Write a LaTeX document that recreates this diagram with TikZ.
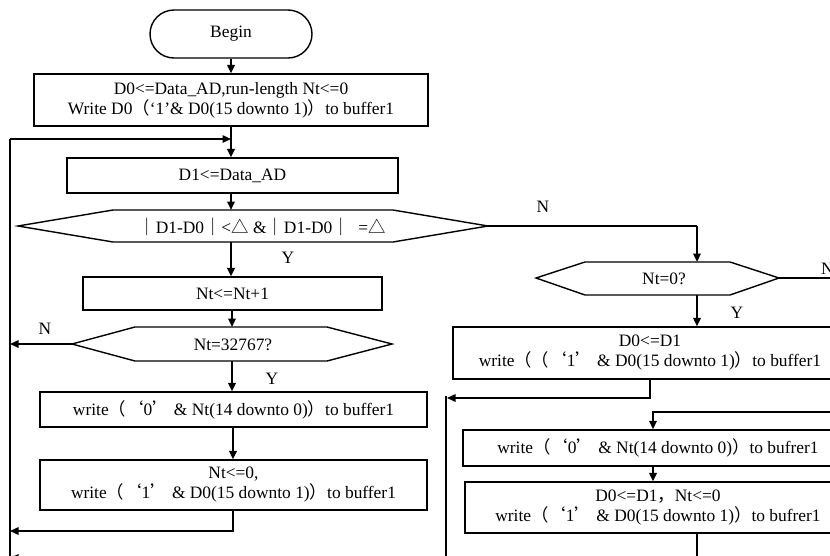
\documentclass[tikz,border=0pt]{standalone}
\usepackage{fontspec}
\setmainfont{Liberation Serif}
\newfontfamily\cjk{Noto Sans CJK SC}
\usetikzlibrary{arrows.meta}
\newcommand{\zlp}{{\cjk （}}
\newcommand{\zrp}{{\cjk ）}}
\newcommand{\zlq}{{\cjk ‘}}
\newcommand{\zrq}{{\cjk ’}}
\newcommand{\zvb}{{\cjk ｜}}
\newcommand{\ztri}{{\cjk △}}
\newcommand{\zcm}{{\cjk ，}}
\begin{document}
\begin{tikzpicture}[x=1pt,y=-1pt,
  font=\fontsize{17.4}{20}\selectfont,
  box/.style={draw,line width=1.4pt,inner sep=0pt,align=center},
  term/.style={draw,line width=1.4pt,rounded corners=24pt,inner sep=0pt},
  hexline/.style={draw,line width=1.4pt,line join=miter},
  txt/.style={inner sep=0pt,align=center},
  lbl/.style={inner sep=0pt},
  varr/.style={line width=2.5pt,-{Triangle[length=8.5pt,width=7.5pt]}},
  harr/.style={line width=1.5pt,-{Triangle[length=8.5pt,width=7.5pt]}},
  plain/.style={line width=1.5pt}]
\clip (0,0) rectangle (830,555);

% ---------- left column ----------
\node[term,minimum width=162pt,minimum height=48pt] (begin) at (231,34) {Begin};
\node[box,minimum width=394pt,minimum height=52pt] (b1) at (231,100)
  {D0<=Data\_AD,run-length Nt<=0\\Write D0\zlp‘1’\& D0(15 downto 1)\zrp to buffer1};
\node[box,minimum width=331pt,minimum height=35pt] (b2) at (232.5,175.5) {D1<=Data\_AD};

% hexagon 1
\coordinate (h1w) at (18,226);
\coordinate (h1e) at (488,226);
\coordinate (h1n) at (231,210);
\coordinate (h1s) at (231,242);
\draw[hexline] (h1w) -- (113,210) -- (393,210) -- (h1e) -- (393,242) -- (113,242) -- cycle;
\node[txt] (h1) at (262,227) {\zvb D1-D0\zvb<\ztri\ \&\zvb D1-D0\zvb\ \ =\ztri};

\node[box,minimum width=299pt,minimum height=33pt] (b3) at (232.5,293.5) {Nt<=Nt+1};

% hexagon 2
\coordinate (h2w) at (72,344);
\coordinate (h2n) at (232,327);
\coordinate (h2s) at (232,361);
\draw[hexline] (h2w) -- (135,327) -- (327,327) -- (392,344) -- (327,361) -- (135,361) -- cycle;
\node[txt] (h2) at (233,345) {Nt=32767?};

\node[box,minimum width=387pt,minimum height=35pt] (b4) at (233.5,409.5)
  {write\zlp\zlq 0\zrq\ \& Nt(14 downto 0)\zrp to buffer1};
\node[box,minimum width=387pt,minimum height=50pt] (b5) at (233.5,485)
  {Nt<=0,\\write\zlp\zlq 1\zrq\ \& D0(15 downto 1)\zrp to buffer1};

% ---------- right column ----------
\coordinate (h3w) at (536,278);
\coordinate (h3e) at (779,278);
\coordinate (h3n) at (697,262);
\coordinate (h3s) at (697,295);
\draw[hexline] (h3w) -- (585,262) -- (730,262) -- (h3e) -- (730,295) -- (585,295) -- cycle;
\node[txt] (h3) at (664,279) {Nt=0?};

\node[box,minimum width=394pt,minimum height=52pt] (b6) at (650,353)
  {D0<=D1\\write\zlp\zlp\zlq 1\zrq\ \& D0(15 downto 1)\zrp to buffer1};
\node[box,minimum width=390pt,minimum height=36pt] (b7) at (658,448)
  {write\zlp\zlq 0\zrq\ \& Nt(14 downto 0)\zrp to bufrer1};
\node[box,minimum width=386pt,minimum height=51pt] (b8) at (658,507.5)
  {D0<=D1\zcm Nt<=0\\write\zlp\zlq 1\zrq\ \& D0(15 downto 1)\zrp to bufrer1};

% ---------- labels ----------
\node[lbl] (ly1) at (288,258) {Y};
\node[lbl] (ln1) at (45,329) {N};
\node[lbl] (ly2) at (272,379) {Y};
\node[lbl] (ln2) at (543,207) {N};
\node[lbl] (ly3) at (737,313) {Y};
\node[lbl,anchor=west] (ln3) at (821,269) {N};

% ---------- helper coordinates ----------
\coordinate (loopL) at (10,139);
\coordinate (loopR) at (231,139);
\coordinate (leftBot) at (10,560);
\coordinate (ret1) at (233,531);
\coordinate (ret1L) at (10,531);
\coordinate (nleft) at (10,344);
\coordinate (turn1) at (697,226);
\coordinate (nright) at (845,278);
\coordinate (b6down) at (650,398);
\coordinate (midL) at (447,398);
\coordinate (midTop) at (446,396);
\coordinate (midBot) at (446,558);
\coordinate (botL) at (10,558);
\coordinate (inR) at (845,412);
\coordinate (inC) at (653,412);
\coordinate (b8down) at (697,560);

% ---------- connectors ----------
\draw[varr] (begin.south) -- (begin.south |- b1.north);
\draw[varr] (b1.south) -- (b1.south |- b2.north);
\draw[harr] (loopL) -- (loopR);
\draw[plain] (loopL) -- (leftBot);
\draw[varr] (h1n |- b2.south) -- (h1n);
\draw[varr] (h1s) -- (h1s |- b3.north);
\draw[varr] (h2n |- b3.south) -- (h2n);
\draw[harr] (h2w) -- (nleft);
\draw[varr] (h2s) -- (h2s |- b4.north);
\draw[varr] (ret1 |- b4.south) -- (ret1 |- b5.north);
\draw[harr] (ret1 |- b5.south) -- (ret1) -- (ret1L);

\draw[plain] (h1e) -- (turn1);
\draw[varr] (turn1) -- (h3n);
\draw[plain] (h3e) -- (nright);
\draw[varr] (h3s) -- (h3s |- b6.north);
\draw[harr] (b6down |- b6.south) -- (b6down) -- (midL);
\draw[plain] (midTop) -- (midBot);
\draw[harr] (midBot) -- (botL);
\draw[harr] (inR) -- (inC) -- (inC |- b7.north);
\draw[varr] (inC |- b7.south) -- (inC |- b8.north);
\draw[plain] (b8down |- b8.south) -- (b8down);
\end{tikzpicture}
\end{document}
